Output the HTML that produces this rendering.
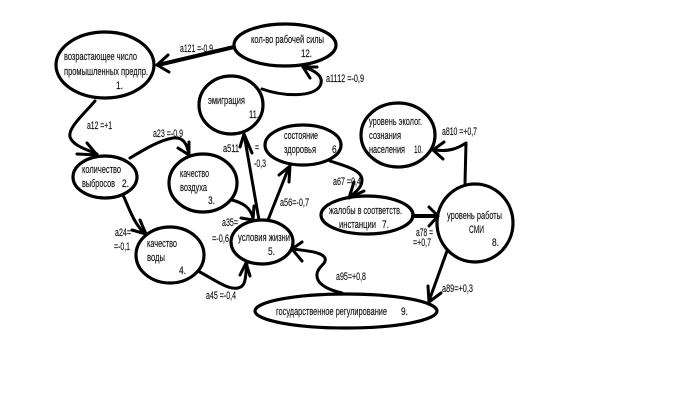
<!DOCTYPE html>
<html><head><meta charset="utf-8"><style>
html,body{margin:0;padding:0;background:#fff}
svg{display:block}
text{font-family:"Liberation Sans",sans-serif;font-size:11px;fill:#111;stroke:#111;stroke-width:.15}
.e{fill:#fff;stroke:#000;stroke-width:3.2}
.c{fill:none;stroke:#000;stroke-width:3;stroke-linecap:round;stroke-linejoin:round}
</style></head><body>
<svg width="680" height="403" viewBox="0 0 680 403" xmlns="http://www.w3.org/2000/svg">
<g class="nodes">
<ellipse class="e" cx="105" cy="65" rx="49" ry="33"/>
<ellipse class="e" cx="285" cy="45" rx="51" ry="21"/>
<ellipse class="e" cx="231" cy="105" rx="32" ry="29"/>
<ellipse class="e" cx="303" cy="145" rx="38" ry="20"/>
<ellipse class="e" cx="105" cy="177" rx="32" ry="21"/>
<ellipse class="e" cx="203" cy="183" rx="34" ry="29"/>
<ellipse class="e" cx="170" cy="255" rx="34" ry="28"/>
<ellipse class="e" cx="262" cy="242" rx="31" ry="22"/>
<ellipse class="e" cx="398" cy="135" rx="37" ry="32"/>
<ellipse class="e" cx="367" cy="215" rx="46" ry="19"/>
<ellipse class="e" cx="475" cy="223" rx="38" ry="39"/>
<ellipse class="e" cx="346" cy="311" rx="91" ry="17"/>
</g>
<g class="c">
<path d="M234 47L158 65" stroke-width="4"/><path d="M168 55L157 65L169 72"/>
<path d="M262 89C285 97 313 97 320 86C325 76 314 70 303 67"/><path d="M303 67L317 67M303 67L310 78"/>
<path d="M95 101C82 116 68 128 70 137C73 146 88 150 97 154"/><path d="M77 154L97 155L87 143"/>
<path d="M130 158C145 149 160 140 173 138C183 137 187 143 189 155"/><path d="M189 142L189 155L178 148"/>
<path d="M123 195C130 210 133 222 145 234"/><path d="M132 230L146 234L140 220"/>
<path d="M232 200C243 203 250 207 253 218"/><path d="M241 218L253 220L254 206"/>
<path d="M198 271C215 280 228 290 238 288C247 286 245 276 247 263"/><path d="M240 275L246 263L250 276"/>
<path d="M259 220L244 134"/><path d="M240 147L244 134L252 153"/>
<path d="M268 220L289 167"/><path d="M279 175L290 166L289 182"/>
<path d="M330 161C345 166 362 170 362 180C362 188 355 192 350 197"/><path d="M354 182L349 198L364 191"/>
<path d="M413 216L437 216" stroke-width="4"/><path d="M429 207L438 216L429 226"/>
<path d="M465 183L466 143C458 148 450 152 435 150"/><path d="M444 142L433 150L443 159"/>
<path d="M447 251L429 301"/><path d="M428 286L429 302L441 293"/>
<path d="M342 293C325 289 316 283 317 274C318 266 327 264 325 258C322 252 308 251 293 249"/><path d="M302 242L292 249L302 261"/>
</g>
<g>
<text x="64" y="60" textLength="73" lengthAdjust="spacingAndGlyphs">возрастающее число</text>
<text x="64" y="75" textLength="84" lengthAdjust="spacingAndGlyphs">промышленных предпр.</text>
<text x="116" y="89" textLength="7" lengthAdjust="spacingAndGlyphs">1.</text>
<text x="251" y="43" textLength="73" lengthAdjust="spacingAndGlyphs">кол-во рабочей силы</text>
<text x="301" y="57" textLength="11" lengthAdjust="spacingAndGlyphs">12.</text>
<text x="208" y="104" textLength="37" lengthAdjust="spacingAndGlyphs">эмиграция</text>
<text x="249" y="118" textLength="10" lengthAdjust="spacingAndGlyphs">11.</text>
<text x="284" y="139" textLength="34" lengthAdjust="spacingAndGlyphs">состояние</text>
<text x="284" y="153" textLength="32" lengthAdjust="spacingAndGlyphs">здоровья</text>
<text x="332" y="153" textLength="7" lengthAdjust="spacingAndGlyphs">6.</text>
<text x="82" y="173" textLength="39" lengthAdjust="spacingAndGlyphs">количество</text>
<text x="82" y="187" textLength="33" lengthAdjust="spacingAndGlyphs">выбросов</text>
<text x="122" y="187" textLength="7" lengthAdjust="spacingAndGlyphs">2.</text>
<text x="180" y="177" textLength="29" lengthAdjust="spacingAndGlyphs">качество</text>
<text x="180" y="191" textLength="27" lengthAdjust="spacingAndGlyphs">воздуха</text>
<text x="208" y="204" textLength="7" lengthAdjust="spacingAndGlyphs">3.</text>
<text x="147" y="247" textLength="30" lengthAdjust="spacingAndGlyphs">качество</text>
<text x="147" y="261" textLength="18" lengthAdjust="spacingAndGlyphs">воды</text>
<text x="179" y="274" textLength="7" lengthAdjust="spacingAndGlyphs">4.</text>
<text x="238" y="241" textLength="52" lengthAdjust="spacingAndGlyphs">условия жизни</text>
<text x="268" y="255" textLength="7" lengthAdjust="spacingAndGlyphs">5.</text>
<text x="369" y="125" textLength="53" lengthAdjust="spacingAndGlyphs">уровень эколог.</text>
<text x="369" y="139" textLength="32" lengthAdjust="spacingAndGlyphs">сознания</text>
<text x="369" y="153" textLength="36" lengthAdjust="spacingAndGlyphs">населения</text>
<text x="414" y="153" textLength="9" lengthAdjust="spacingAndGlyphs">10.</text>
<text x="329" y="214" textLength="73" lengthAdjust="spacingAndGlyphs">жалобы в соответств.</text>
<text x="339" y="228" textLength="37" lengthAdjust="spacingAndGlyphs">инстанции</text>
<text x="382" y="228" textLength="7" lengthAdjust="spacingAndGlyphs">7.</text>
<text x="447" y="219" textLength="55" lengthAdjust="spacingAndGlyphs">уровень работы</text>
<text x="469" y="233" textLength="15" lengthAdjust="spacingAndGlyphs">СМИ</text>
<text x="492" y="246" textLength="7" lengthAdjust="spacingAndGlyphs">8.</text>
<text x="276" y="315" textLength="111" lengthAdjust="spacingAndGlyphs">государственное регулирование</text>
<text x="401" y="315" textLength="7" lengthAdjust="spacingAndGlyphs">9.</text>
<text x="180" y="52" textLength="33" lengthAdjust="spacingAndGlyphs">a121 =-0,9</text>
<text x="326" y="82" textLength="38" lengthAdjust="spacingAndGlyphs">a1112 =-0,9</text>
<text x="87" y="129" textLength="25" lengthAdjust="spacingAndGlyphs">a12 =+1</text>
<text x="153" y="137" textLength="30" lengthAdjust="spacingAndGlyphs">a23 =-0,9</text>
<text x="223" y="152" textLength="16" lengthAdjust="spacingAndGlyphs">a511</text>
<text x="255" y="151" textLength="4" lengthAdjust="spacingAndGlyphs">=</text>
<text x="254" y="167" textLength="12" lengthAdjust="spacingAndGlyphs">-0,3</text>
<text x="333" y="185" textLength="28" lengthAdjust="spacingAndGlyphs">a67 =0,4</text>
<text x="280" y="206" textLength="29" lengthAdjust="spacingAndGlyphs">a56=-0,7</text>
<text x="222" y="226" textLength="16" lengthAdjust="spacingAndGlyphs">a35=</text>
<text x="212" y="242" textLength="17" lengthAdjust="spacingAndGlyphs">=-0,6</text>
<text x="115" y="236" textLength="16" lengthAdjust="spacingAndGlyphs">a24=</text>
<text x="114" y="250" textLength="16" lengthAdjust="spacingAndGlyphs">=-0,1</text>
<text x="206" y="299" textLength="30" lengthAdjust="spacingAndGlyphs">a45 =-0,4</text>
<text x="416" y="236" textLength="17" lengthAdjust="spacingAndGlyphs">a78 =</text>
<text x="413" y="246" textLength="18" lengthAdjust="spacingAndGlyphs">=+0,7</text>
<text x="442" y="135" textLength="35" lengthAdjust="spacingAndGlyphs">a810 =+0,7</text>
<text x="442" y="292" textLength="31" lengthAdjust="spacingAndGlyphs">a89=+0,3</text>
<text x="336" y="280" textLength="30" lengthAdjust="spacingAndGlyphs">a95=+0,8</text>
</g>
</svg>
</body></html>
